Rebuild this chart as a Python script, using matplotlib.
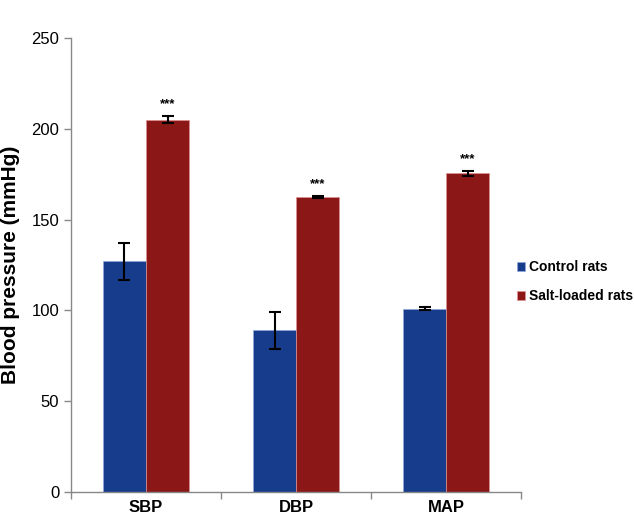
import matplotlib.pyplot as plt
import numpy as np

plt.rcParams['font.family'] = ['Liberation Sans', 'DejaVu Sans']

categories = ['SBP', 'DBP', 'MAP']
control = [127, 89, 101]
control_err = [10, 10, 1]
salt = [205, 162.5, 175.5]
salt_err = [2, 0.7, 1.2]
stars = ['***', '***', '***']

fig = plt.figure(figsize=(6.34, 5.15), dpi=100)
ax = fig.add_axes([0.112, 0.0447, 0.71, 0.8813])

x = np.arange(len(categories))
w = 0.287
ekw = dict(ecolor='black', elinewidth=1.5, capsize=4, capthick=1.5)
ax.bar(x - w / 2, control, w, yerr=control_err, color='#173C8C',
       edgecolor='#8FA8D8', linewidth=0.5, label='Control rats', error_kw=ekw)
ax.bar(x + w / 2, salt, w, yerr=salt_err, color='#8B1717',
       edgecolor='#E09090', linewidth=0.5, label='Salt-loaded rats', error_kw=ekw)

for xi, v, e, s in zip(x, salt, salt_err, stars):
    ax.annotate(s, (xi + w / 2, v + e), xytext=(0, 4), textcoords='offset points',
                ha='center', va='bottom', fontsize=9.5, fontweight='bold')

ax.set_xlim(-0.5, 2.5)
ax.set_ylim(0, 250)
ax.set_yticks(np.arange(0, 251, 50))
ax.set_xticks(x)
ax.set_xticklabels(categories, fontsize=12, fontweight='bold')
ax.set_xticks(np.arange(-0.5, 2.6, 1), minor=True)
ax.tick_params(axis='x', which='major', length=0, pad=6)
ax.tick_params(axis='x', which='minor', length=5, color='#888888', width=1)
ax.tick_params(axis='y', labelsize=12, length=5, color='#888888', width=1)

for side in ['top', 'right']:
    ax.spines[side].set_visible(False)
for side in ['left', 'bottom']:
    ax.spines[side].set_color('#888888')
    ax.spines[side].set_linewidth(1)

ax.set_ylabel('Blood pressure (mmHg)', fontsize=15, fontweight='bold', labelpad=8)

leg = ax.legend(loc='center left', bbox_to_anchor=(0.99, 0.463), frameon=False,
                prop={'size': 10, 'weight': 'bold'}, handlelength=0.6,
                handleheight=0.6, handletextpad=0.3, labelspacing=1.1,
                borderpad=0, borderaxespad=0)

fig.savefig('out.png', dpi=100)
